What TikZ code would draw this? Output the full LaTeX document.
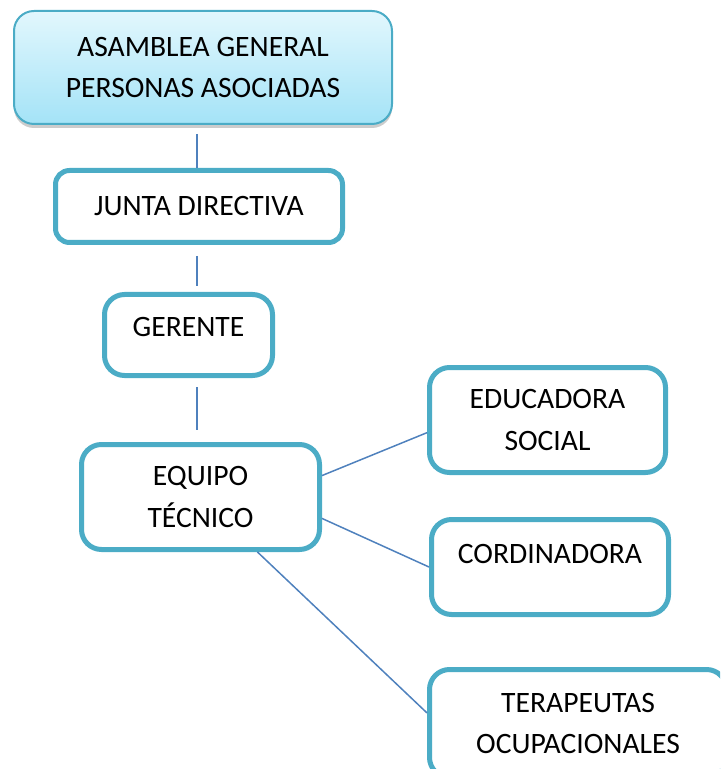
\documentclass[tikz,border=0pt]{standalone}
\usepackage{fontspec}
\setmainfont{Carlito}
\usepackage{xcolor}
\usepackage{tikz}
\usetikzlibrary{shapes.geometric, shadows}
\definecolor{borde}{RGB}{75,172,198}
\definecolor{azulinea}{RGB}{79,129,189}
\definecolor{cieloA}{RGB}{226,247,253}
\definecolor{cieloB}{RGB}{164,227,247}
\tikzstyle{cargo} = [rectangle, rounded corners=10pt, draw=borde, line width=2.5pt, fill=white, inner sep=0pt, align=center, font=\fontsize{14.8}{20.75}\selectfont]
\tikzstyle{cabeza} = [cargo, line width=1pt, rounded corners=10pt, top color=cieloA, bottom color=cieloB, drop shadow={shadow xshift=0pt, shadow yshift=-2pt, opacity=0.25, fill=black!80}]
\tikzstyle{conector} = [draw=azulinea, line width=0.75pt]

\begin{document}
\begin{tikzpicture}[x=0.5pt, y=-0.5pt]

\clip (0,0) rectangle (720,769);

\node[cabeza, minimum width=189pt, minimum height=56.5pt] (asamblea) at (203,67.5) {ASAMBLEA GENERAL\\PERSONAS ASOCIADAS};
\node[cargo, rounded corners=7pt, minimum width=143.5pt, minimum height=36pt] (junta) at (199,206.5) {JUNTA DIRECTIVA};
\node[cargo, minimum width=84pt, minimum height=40.5pt, text depth=8pt] (gerente) at (188.5,335) {GERENTE};
\node[cargo, minimum width=119pt, minimum height=52.5pt] (equipo) at (200.5,497) {EQUIPO\\T\'ECNICO};
\node[cargo, minimum width=118pt, minimum height=52.5pt] (educadora) at (547.5,420) {EDUCADORA\\SOCIAL};
\node[cargo, minimum width=118.5pt, minimum height=47.5pt, text depth=13pt] (cordinadora) at (550,567) {CORDINADORA};
\node[cargo, minimum width=148.5pt, minimum height=54pt] (terapeutas) at (578,723.5) {TERAPEUTAS\\OCUPACIONALES};

% lineas verticales
\coordinate (eje) at (197,0);
\draw[conector, shorten <=4.5pt] (asamblea.south -| eje) -- (junta.north -| eje);
\draw[conector, shorten <=5.5pt, shorten >=3pt] (junta.south -| eje) -- (gerente.north -| eje);
\draw[conector, shorten <=4.5pt, shorten >=6pt] (gerente.south -| eje) -- (equipo.north -| eje);

% ramas del equipo
\draw[conector] (equipo.10) -- (educadora.186);
\draw[conector] (equipo.-10) -- (cordinadora.west);
\draw[conector] (equipo.-44) -- (terapeutas.176);
\end{tikzpicture}
\end{document}
